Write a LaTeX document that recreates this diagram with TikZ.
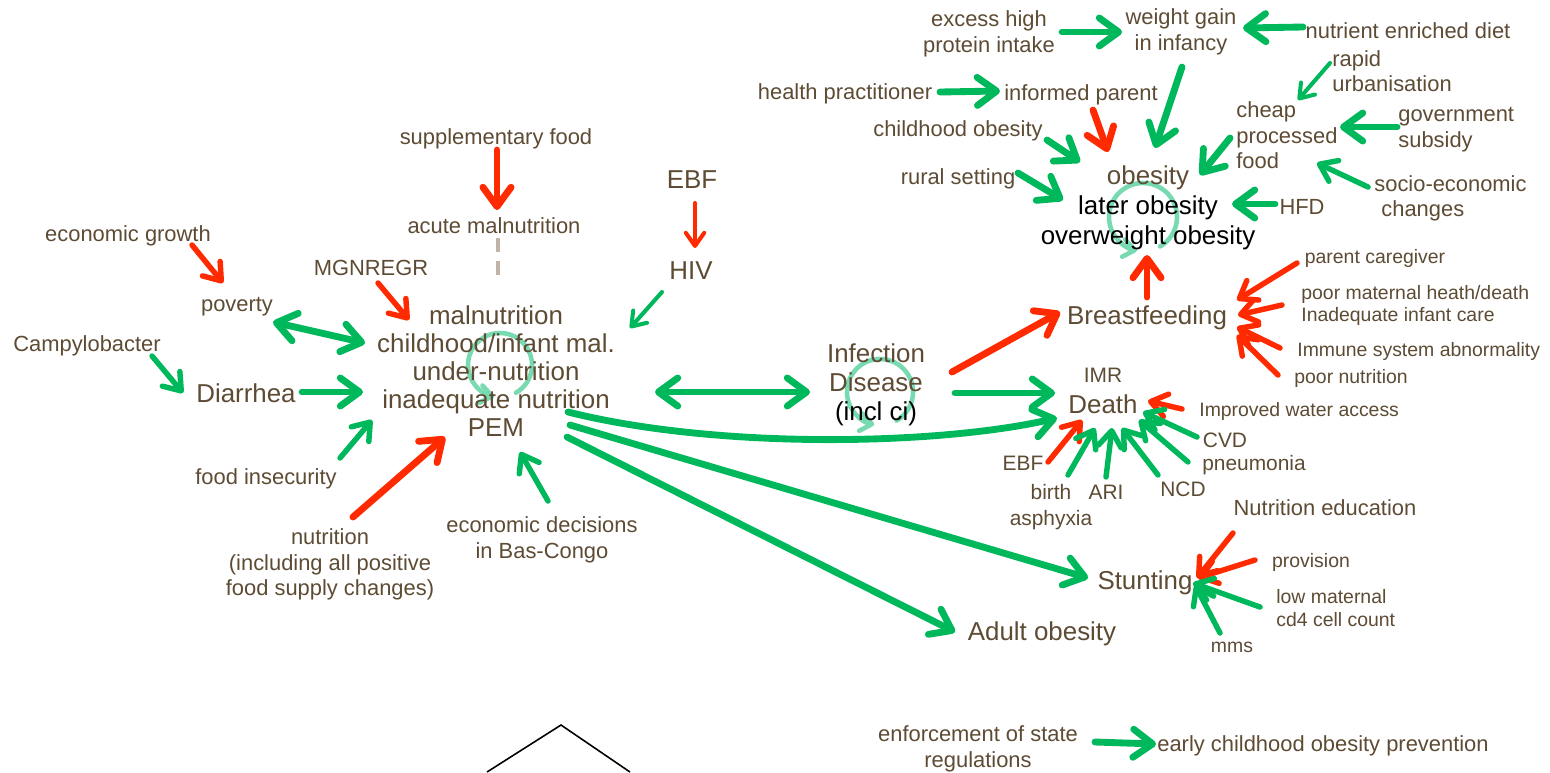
\documentclass[tikz,border=0pt]{standalone}
\usepackage{fontspec}
\setmainfont{Liberation Sans}
\usetikzlibrary{arrows.meta,calc}
\definecolor{ctext}{RGB}{93,75,52}
\definecolor{cgreen}{RGB}{0,184,92}
\definecolor{cred}{RGB}{255,42,0}
\definecolor{cloop}{RGB}{120,218,176}
\definecolor{cdash}{RGB}{190,180,170}
\pgfdeclarelayer{bg}
\pgfdeclarelayer{loops}
\pgfsetlayers{bg,loops,main}
\begin{document}
\begin{tikzpicture}[x=0.02cm,y=-0.02cm,
  every node/.style={inner sep=0pt,text=ctext},
  big/.style={font=\fontsize{14.74}{16}\selectfont,align=center},
  lbl/.style={font=\fontsize{12.47}{14.5}\selectfont,align=center},
  mid/.style={font=\fontsize{11.9}{14.7}\selectfont,align=center},
  sml/.style={font=\fontsize{11.05}{12.6}\selectfont,align=left},
  lft/.style={anchor=west,align=left},
  conn/.style={line cap=round,line join=round},
  wlink/.style={conn,line width=3.9pt,-{Straight Barb[length=11pt,width=16pt,round]}},
  mlink/.style={conn,line width=3.1pt,-{Straight Barb[length=9pt,width=13pt,round]}},
  tlink/.style={conn,line width=2.3pt,-{Straight Barb[length=7.5pt,width=10.5pt,round]}},
  twoway/.style={conn,line width=3.9pt,{Straight Barb[length=11pt,width=16pt,round]}-{Straight Barb[length=11pt,width=16pt,round]}},
  posl/.style={draw=cgreen},
  negl/.style={draw=cred},
  loopsym/.style={draw=cloop,line width=2.6pt,line cap=round,-{Straight Barb[length=6.5pt,width=10pt,round]}}
]
\begin{pgfonlayer}{bg}
  \fill[white] (0,0) rectangle (1550,772);
\end{pgfonlayer}
\useasboundingbox (0,0) rectangle (1550,772);

% ---------- obesity cluster ----------
\node[lbl] (excess) at (989,34) {excess high\\protein intake};
\node[lbl] (weight) at (1181,32) {weight gain\\in infancy};
\node[lbl] (nutrient) at (1408,31) {nutrient enriched diet};
\node[lbl] (health) at (845,94) {health practitioner};
\node[lbl] (informed) at (1081,95) {informed parent};
\node[lbl,lft] (rapid) at (1332,71) {rapid\\urbanisation};
\node[lbl,lft] (cheap) at (1236,135.5) {cheap\\processed\\food};
\node[lbl,lft] (govt) at (1398,129.5) {government\\subsidy};
\node[lbl] (childob) at (958,131) {childhood obesity};
\node[lbl] (rural) at (958,179) {rural setting};
\node[big,font=\fontsize{14.74}{17}\selectfont] (obes) at (1148,208)
  {obesity\\\textcolor{black}{later obesity}\\\textcolor{black}{overweight obesity}};
\node[lbl] (hfd) at (1302,207) {HFD};
\node[lbl,lft] (socio) at (1374,198.5) {socio-economic\\\hspace*{4pt}changes};

% ---------- malnutrition cluster ----------
\node[lbl] (suppl) at (496,139) {supplementary food};
\node[lbl] (acute) at (494,226) {acute malnutrition};
\node[big] (ebf) at (692,180) {EBF};
\node[big] (hiv) at (691,271) {HIV};
\node[lbl] (econ) at (128,236) {economic growth};
\node[lbl] (mgn) at (371,268) {MGNREGR};
\node[lbl] (poverty) at (237,307) {poverty};
\node[lbl] (campy) at (87,346) {Campylobacter};
\node[big] (diarr) at (246,393) {Diarrhea};
\node[big] (maln) at (496,371)
  {malnutrition\\childhood/infant mal.\\under-nutrition\\inadequate nutrition\\PEM};
\node[lbl] (foodins) at (266,479) {food insecurity};
\node[lbl] (nutr) at (330,564.5) {nutrition\\(including all positive\\food supply changes)};
\node[lbl] (econdec) at (542,540) {economic decisions\\in Bas-Congo};

% ---------- infection, breastfeeding, death ----------
\node[big,font=\fontsize{14.74}{16.4}\selectfont] (infect) at (876,385)
  {Infection\\Disease\\\textcolor{black}{(incl ci)}};
\node[big] (breast) at (1147,318) {Breastfeeding};
\node[sml] (parent) at (1375,258) {parent caregiver};
\node[sml,lft,font=\fontsize{11.05}{13}\selectfont] (poormat) at (1301,305.5)
  {poor maternal heath/death\\Inadequate infant care};
\node[sml,lft] (immune) at (1297,351) {Immune system abnormality};
\node[sml,lft] (poornut) at (1294,378) {poor nutrition};
\node[mid] (imr) at (1103,375) {IMR};
\node[big] (death) at (1103,404) {Death};
\node[sml,lft] (water) at (1199,411) {Improved water access};
\node[mid] (cvd) at (1225,440) {CVD};
\node[mid] (pneu) at (1254,465) {pneumonia};
\node[mid] (ebfb) at (1023,463) {EBF};
\node[mid] (birth) at (1051,507) {birth\\asphyxia};
\node[mid] (ari) at (1106,492) {ARI};
\node[mid] (ncd) at (1183,489) {NCD};

% ---------- stunting, adult obesity ----------
\node[lbl] (nutred) at (1325,508) {Nutrition education};
\node[big] (stunt) at (1145,583) {Stunting};
\node[sml] (prov) at (1311,562) {provision};
\node[sml,lft] (lowmat) at (1276,608) {low maternal\\cd4 cell count};
\node[sml] (mms) at (1232,647) {mms};
\node[big] (adult) at (1042,634) {Adult obesity};
\node[lbl] (enforce) at (978,749) {enforcement of state\\regulations};
\node[lbl] (early) at (1323,746) {early childhood obesity prevention};

% ---------- loop symbols ----------
\begin{pgfonlayer}{loops}
  \draw[loopsym] ($(maln)+(4,-6)$) ++(420:32) arc[start angle=420,end angle=100,radius=32];
  \draw[loopsym] ($(infect)+(4,7)$) ++(420:33) arc[start angle=420,end angle=100,radius=33];
  \draw[loopsym] ($(obes)+(-5,9)$) ++(420:34) arc[start angle=420,end angle=100,radius=34];
\end{pgfonlayer}

% ---------- links: obesity cluster ----------
\draw[wlink,posl] ($(excess)+(73,-2)$) -- ($(weight)+(-59,0)$);
\draw[wlink,posl] ($(nutrient)+(-105,-4)$) -- ($(weight)+(62,-4)$);
\draw[wlink,posl] ($(health)+(95,-2)$) -- ($(informed)+(-81,-4)$);
\draw[wlink,posl] ($(weight)+(1,35)$) -- ($(obes)+(7,-60)$);
\draw[wlink,negl] ($(informed)+(12,15)$) -- ($(obes)+(-40,-56)$);
\draw[wlink,posl] ($(childob)+(89,9)$) -- ($(obes)+(-68,-46)$);
\draw[wlink,posl] ($(rural)+(60,-6)$) -- ($(obes)+(-85,-8)$);
\draw[wlink,posl] ($(cheap.west)+(-6,2.5)$) -- ($(obes)+(52,-33)$);
\draw[tlink,posl] ($(rapid.west)+(-2,-8)$) -- ($(cheap.west)+(62,-35.5)$);
\draw[wlink,posl] ($(govt.west)+(-1,-2.5)$) -- ($(cheap.west)+(104,-8.5)$);
\draw[mlink,posl] ($(socio.west)+(-6,-11.5)$) -- ($(cheap.west)+(81,27.5)$);
\draw[wlink,posl] ($(hfd)+(-27,-3)$) -- ($(obes)+(84,-4)$);
\draw[wlink,negl] ($(breast)+(0,-21)$) -- ($(obes)+(-1,47)$);

% ---------- links: breastfeeding ----------
\draw[mlink,negl] ($(parent)+(-78,5)$) -- ($(breast)+(90,-18)$);
\draw[mlink,negl] ($(poormat.west)+(-19,-0.5)$) -- ($(breast)+(91,-3)$);
\draw[mlink,negl] ($(immune.west)+(-17,-3)$) -- ($(breast)+(90,9)$);
\draw[mlink,negl] ($(poornut.west)+(-16,-3)$) -- ($(breast)+(90,17)$);
\draw[wlink,negl] ($(infect)+(76,-13)$) -- ($(breast)+(-87,-6)$);

% ---------- links: death ----------
\draw[wlink,posl] ($(infect)+(79,8)$) -- ($(death)+(-48,-11)$);
\draw[wlink,posl] ($(maln)+(72,41)$) .. controls ($(maln)+(224,79)$) and ($(death)+(-163,41)$) .. ($(death)+(-46,14)$);
\draw[twoway,posl] ($(maln)+(159,21)$) -- ($(infect)+(-66,7)$);
\draw[mlink,negl] ($(water.west)+(-17,-2)$) -- ($(death)+(45,-3)$);
\draw[mlink,negl] ($(ebfb)+(25,-1)$) -- ($(death)+(-21,16)$);
\draw[mlink,posl] ($(birth)+(17,-32)$) -- ($(death)+(-8,24)$);
\draw[mlink,posl] ($(ari)+(0,-15)$) -- ($(death)+(9,24)$);
\draw[mlink,posl] ($(ncd)+(-25,-14)$) -- ($(death)+(19,24)$);
\draw[mlink,posl] ($(pneu)+(-66,-3)$) -- ($(death)+(36,16)$);
\draw[mlink,posl] ($(cvd)+(-28,-3)$) -- ($(death)+(40,8)$);

% ---------- links: stunting, adult obesity ----------
\draw[wlink,posl] ($(maln)+(74,54)$) -- ($(stunt)+(-57,-5)$);
\draw[wlink,posl] ($(maln)+(71,66)$) -- ($(adult)+(-87,-2)$);
\draw[mlink,negl] ($(nutred)+(-92,25)$) -- ($(stunt)+(52,-5)$);
\draw[mlink,negl] ($(prov)+(-56,-2)$) -- ($(stunt)+(53,-5)$);
\draw[mlink,posl] ($(lowmat.west)+(-16,-1)$) -- ($(stunt)+(48,0)$);
\draw[mlink,posl] ($(mms)+(-12,-14)$) -- ($(stunt)+(50,2)$);
\draw[wlink,posl] ($(enforce)+(117,-7)$) -- ($(early)+(-167,-2)$);

% ---------- links: malnutrition ----------
\draw[wlink,negl] ($(suppl)+(1,11)$) -- ($(acute)+(3,-16)$);
\draw[draw=cdash,line width=1.8pt,dash pattern=on 8pt off 5pt] ($(acute)+(4,12)$) -- ($(maln)+(2,-88)$);
\draw[tlink,negl] ($(ebf)+(3,23)$) -- ($(hiv)+(4,-23)$);
\draw[tlink,posl] ($(hiv)+(-29,21)$) -- ($(maln)+(134,-43)$);
\draw[mlink,negl] ($(econ)+(64,9)$) -- ($(poverty)+(-14,-24)$);
\draw[mlink,negl] ($(mgn)+(7,15)$) -- ($(maln)+(-87,-51)$);
\draw[twoway,posl] ($(poverty)+(36,15)$) -- ($(maln)+(-131,-28)$);
\draw[mlink,posl] ($(campy)+(65,10)$) -- ($(diarr)+(-63,0)$);
\draw[wlink,posl] ($(diarr)+(56,-1)$) -- ($(maln)+(-133,21)$);
\draw[mlink,posl] ($(foodins)+(74,-21)$) -- ($(maln)+(-124,49)$);
\draw[wlink,negl] ($(nutr)+(23,-47.5)$) -- ($(maln)+(-51,66)$);
\draw[mlink,posl] ($(econdec)+(6,-39)$) -- ($(maln)+(24,81)$);

% ---------- outline at the foot ----------
\draw[line width=0.9pt,line join=miter] (487,772) -- (561,725) -- (630,772);
\end{tikzpicture}
\end{document}
